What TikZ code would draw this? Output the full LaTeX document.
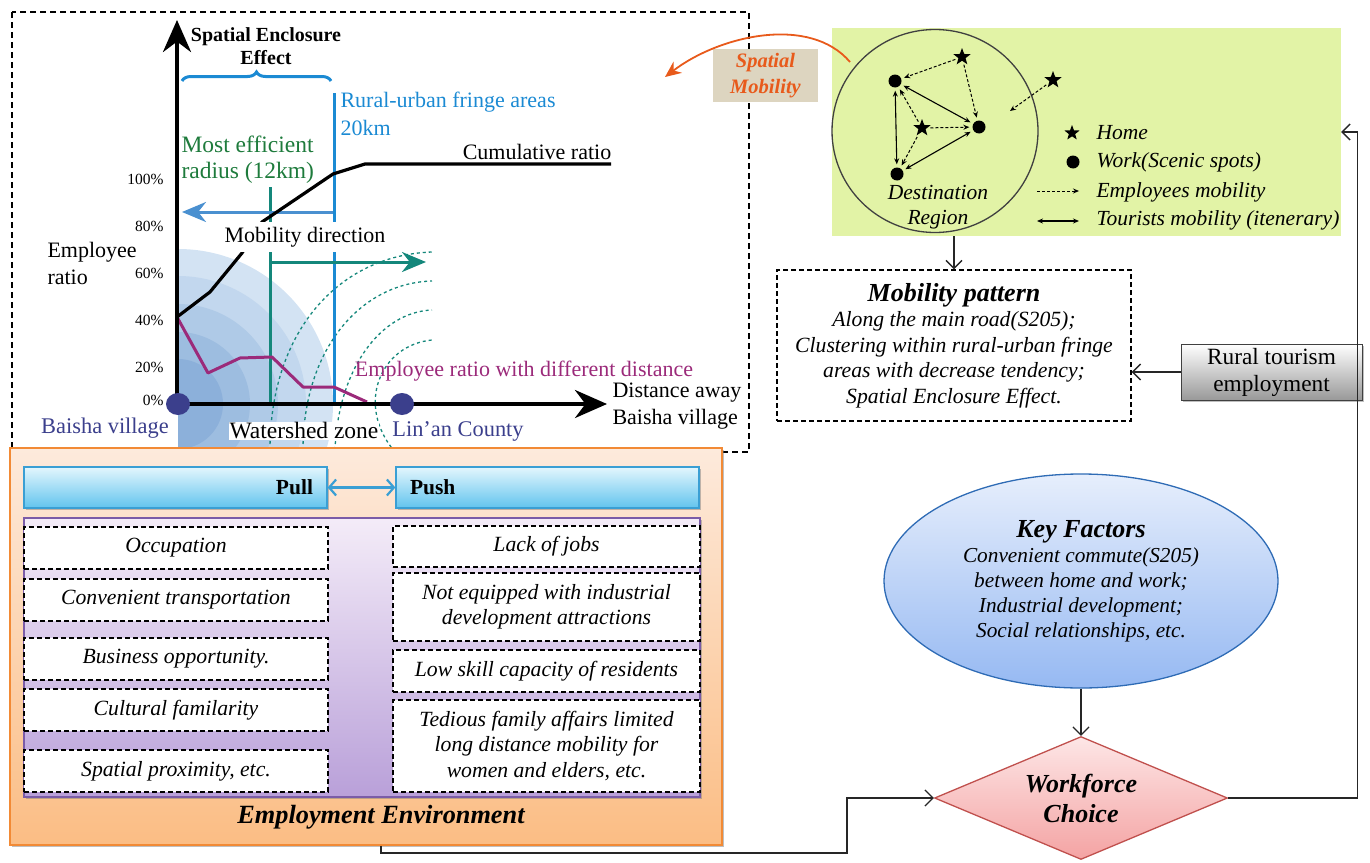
\documentclass[tikz,border=0pt]{standalone}
\usepackage{fontspec}
\setmainfont{Liberation Serif}
\usetikzlibrary{arrows.meta,positioning,calc,decorations.pathreplacing,shapes.geometric,shadows}
\definecolor{fringeblue}{HTML}{1B8AD3}
\definecolor{arrowblue}{HTML}{4A90D0}
\definecolor{radiusteal}{HTML}{14877B}
\definecolor{effgreen}{HTML}{1E7B3C}
\definecolor{ratiopurple}{HTML}{9B2A7A}
\definecolor{villagenavy}{HTML}{3B3F8C}
\definecolor{panelgreen}{HTML}{E2F3A6}
\definecolor{mobilityorange}{HTML}{E85A1B}
\definecolor{tanbox}{HTML}{DDD5C0}
\definecolor{envtop}{HTML}{FDEADC}
\definecolor{envbottom}{HTML}{FBBD84}
\definecolor{envedge}{HTML}{F28A35}
\definecolor{pptop}{HTML}{E3F6FD}
\definecolor{ppbottom}{HTML}{62C4EE}
\definecolor{ppedge}{HTML}{3A9FD4}
\definecolor{factop}{HTML}{F4ECF8}
\definecolor{facbottom}{HTML}{B9A0D9}
\definecolor{facedge}{HTML}{7B5CA8}
\definecolor{keytop}{HTML}{E6EEFC}
\definecolor{keybottom}{HTML}{96B9F2}
\definecolor{keyedge}{HTML}{2E6BB5}
\definecolor{choicetop}{HTML}{FDE6E6}
\definecolor{choicebottom}{HTML}{F4A3A3}
\definecolor{choiceedge}{HTML}{C0504D}
\definecolor{ringa}{HTML}{D3E3F3}
\definecolor{ringb}{HTML}{C2D7EE}
\definecolor{ringc}{HTML}{AFCAE7}
\definecolor{ringd}{HTML}{9DBDE0}
\definecolor{ringe}{HTML}{8CB0DA}
\newcommand{\chartfont}{\fontsize{22}{27}\selectfont}
\newcommand{\tickfont}{\fontsize{15.5}{18}\selectfont}
\newcommand{\notefont}{\fontsize{21.7}{25.5}\selectfont\itshape}
\newcommand{\headfont}{\fontsize{26.3}{30}\selectfont\bfseries\itshape}

\begin{document}
\begin{tikzpicture}[x=1pt, y=-1pt,
  conn/.style={-{Straight Barb[length=8pt,width=16pt]}, line width=1.3pt, draw=black!85},
  axis/.style={line width=4pt, -{Stealth[length=32pt,width=28pt]}},
  wave/.style={radiusteal, line width=1.3pt, dash pattern=on 3pt off 3pt},
  factbox/.style={draw, dash pattern=on 5pt off 3pt, line width=1.4pt, fill=white, inner sep=2pt, align=center, font=\notefont},
  ppbox/.style={draw=ppedge, line width=1.3pt, top color=pptop, bottom color=ppbottom, drop shadow, minimum width=303pt, minimum height=41pt, text width=275pt, font=\fontsize{21.5}{24}\selectfont\bfseries},
  home/.style={star, star points=5, star point ratio=2.4, fill=black, inner sep=0pt, minimum size=18pt},
  work/.style={circle, fill=black, inner sep=0pt, minimum size=13pt},
  emp/.style={densely dashed, line width=1pt, -{Stealth[length=6pt,width=5pt]}, shorten >=3pt, shorten <=3pt},
  tour/.style={line width=1.1pt, {Stealth[length=6pt,width=5pt]}-{Stealth[length=6pt,width=5pt]}, shorten >=3pt, shorten <=3pt},
  legend/.style={anchor=west, font=\fontsize{21.5}{24}\selectfont\itshape},
  village/.style={ellipse, fill=villagenavy, inner sep=0pt, minimum width=24pt, minimum height=22pt},
]
  \useasboundingbox (0,0) rectangle (1370,862);

  % Chart frame
  \draw[line width=1.5pt, dash pattern=on 6pt off 4pt] (12,12) rectangle (749,452);

  % Shaded rings round Baisha village
  \begin{scope}
    \clip (178,200) rectangle (440,450);
    \fill[ringa] (178,404) circle[radius=155];
    \fill[ringb] (178,404) circle[radius=128];
    \fill[ringc] (178,404) circle[radius=100];
    \fill[ringd] (178,404) circle[radius=72];
    \fill[ringe] (178,404) circle[radius=45];
  \end{scope}

  % Dashed waves
  \draw[wave] (270,450) .. controls (270,330) and (340,255) .. (432,252);
  \draw[wave] (303,450) .. controls (303,350) and (360,283) .. (432,281);
  \draw[wave] (335,450) .. controls (338,370) and (380,312) .. (432,310);
  \draw[wave] (395,452) .. controls (355,405) and (380,345) .. (432,340);

  % Radius lines and mobility arrows
  \draw[fringeblue, line width=3pt] (334,93) -- (334,404);
  \draw[radiusteal, line width=3pt] (270,187) -- (270,404);
  \draw[arrowblue, line width=3pt, -{Stealth[length=24pt,width=20pt]}] (333,212) -- (182,212);
  \draw[radiusteal, line width=3pt, -{Stealth[length=24pt,width=20pt]}] (270,262) -- (426,262);
  \draw[fringeblue, line width=3pt, decorate, decoration={brace, amplitude=9pt}] (182,81) -- (331,81);

  % Curves
  \draw[line width=3.2pt, line join=round] (177,317) -- (210,292) -- (242,253) -- (262,222) -- (333,174) -- (365,164) -- (611,164);
  \draw[ratiopurple, line width=3pt, line join=round] (177,317) -- (208,373) -- (240,358) -- (272,357) -- (303,387) -- (334,387) -- (367,402);

  % Axes
  \draw[axis] (177,404) -- (177,20);
  \draw[axis] (177,404) -- (607,404);
  \node[village] (baisha) at (178,404) {};
  \node[village] (linan) at (402,404) {};

  % Chart labels
  \foreach \val/\yy in {100/179, 80/226, 60/273, 40/320, 20/367, 0/400}
    \node[anchor=east, font=\tickfont] at (167,\yy) {\val\%};
  \node[anchor=west, align=left, font=\chartfont] (ratiolbl) at (44,263) {Employee\\ratio};
  \node[align=center, font=\fontsize{20}{23}\selectfont\bfseries] (enclosure) at (266,46) {Spatial Enclosure\\Effect};
  \node[anchor=west, align=left, text=fringeblue, font=\fontsize{22}{28}\selectfont] (fringe) at (337,114) {Rural-urban fringe areas\\20km};
  \node[anchor=west, align=left, text=effgreen, font=\fontsize{23.5}{26}\selectfont] (radius) at (178,160) {Most efficient\\radius (12km)};
  \node[font=\chartfont] (cumul) at (537,152) {Cumulative ratio};
  \node[font=\chartfont, fill=white, inner ysep=5pt] (direction) at (305,237) {Mobility direction};
  \node[font=\chartfont, text=ratiopurple] (ratiodist) at (524,371) {Employee ratio with different distance};
  \node[font=\fontsize{22.4}{27}\selectfont, text=villagenavy] (baishalbl) at (105,428) {Baisha village};
  \node[font=\fontsize{23.5}{27}\selectfont, fill=white, inner sep=1pt] (watershed) at (304,431) {Watershed zone};
  \node[font=\fontsize{22.4}{27}\selectfont, text=villagenavy] (linanlbl) at (458,431) {Lin’an County};
  \node[anchor=west, align=left, font=\chartfont] (distlbl) at (609,406) {Distance away\\Baisha village};

  % Employment environment
  \node[draw=envedge, line width=1.5pt, top color=envtop, bottom color=envbottom, drop shadow, minimum width=712pt, minimum height=397pt] (env) at (366,646.5) {};
  \node[ppbox, align=right] (pull) at (175.5,487.5) {Pull};
  \node[ppbox, align=left] (push) at (547.5,487.5) {Push};
  \draw[ppedge, line width=2.2pt, {Straight Barb[length=7pt,width=16pt]}-{Straight Barb[length=7pt,width=16pt]}] (pull.east) -- (push.west);
  \node[draw=facedge, line width=1.3pt, top color=factop, bottom color=facbottom, drop shadow, minimum width=676pt, minimum height=279pt] (factors) at (362,657.5) {};
  % Pull factors
  \node[factbox, minimum width=304pt, minimum height=42pt] (occup) at (176,548) {Occupation};
  \node[factbox, minimum width=304pt, minimum height=42pt] (transp) at (176,600) {Convenient transportation};
  \node[factbox, minimum width=304pt, minimum height=42pt] (business) at (176,659) {Business opportunity.};
  \node[factbox, minimum width=304pt, minimum height=42pt] (cultural) at (176,710) {Cultural familarity};
  \node[factbox, minimum width=304pt, minimum height=42pt] (proximity) at (176,771) {Spatial proximity, etc.};
  % Push factors
  \node[factbox, minimum width=307pt, minimum height=41pt] (jobs) at (546.5,546.5) {Lack of jobs};
  \node[factbox, minimum width=307pt, minimum height=68pt] (industry) at (546.5,607) {Not equipped with industrial\\development attractions};
  \node[factbox, minimum width=307pt, minimum height=42pt] (skill) at (546.5,671) {Low skill capacity of residents};
  \node[factbox, minimum width=307pt, minimum height=92pt] (family) at (546.5,746) {Tedious family affairs limited\\long distance mobility for\\women and elders, etc.};
  \node[font=\headfont] (envlabel) at (381,817) {Employment Environment};

  % Spatial mobility panel
  \node[fill=panelgreen, inner sep=0pt, minimum width=509pt, minimum height=208pt] (panel) at (1086.5,132) {};
  \node[ellipse, draw=black!75, line width=1.3pt, inner sep=0pt, minimum width=206pt, minimum height=203pt] (dest) at (935,131) {};
  \node[home] (h1) at (962,57) {};
  \node[home] (h2) at (922,128) {};
  \node[home] (h3) at (1053,80) {};
  \node[work] (w1) at (895,81) {};
  \node[work] (w2) at (979,127) {};
  \node[work] (w3) at (897,174) {};
  \coordinate (inflow) at (1010,111);
  \draw[emp] (h1) -- (w1);
  \draw[emp] (h1) -- (w2);
  \draw[emp] (h2) -- (w1);
  \draw[emp] (h2) -- (w2);
  \draw[emp] (h2) -- (w3);
  \draw[emp, shorten >=0pt] (h3) -- (inflow);
  \draw[tour] (w1) -- (w2);
  \draw[tour] (w1) -- (w3);
  \draw[tour] (w2) -- (w3);
  \node[align=center, font=\fontsize{21.5}{25}\selectfont\itshape] (destlbl) at (938,207) {Destination\\Region};
  % Legend
  \node[home, minimum size=16pt] (lhome) at (1072,133) {};
  \node[work, minimum size=13pt] (lwork) at (1073,162) {};
  \coordinate (le1) at (1037,191);
  \coordinate (le2) at (1079,191);
  \coordinate (lt1) at (1037,221);
  \coordinate (lt2) at (1079,221);
  \draw[emp, shorten <=0pt, shorten >=0pt] (le1) -- (le2);
  \draw[tour, shorten <=0pt, shorten >=0pt] (lt1) -- (lt2);
  \node[legend] at (1093,133) {Home};
  \node[legend] at (1093,162) {Work(Scenic spots)};
  \node[legend] at (1093,192) {Employees mobility};
  \node[legend] at (1093,220) {Tourists mobility (itenerary)};

  % Spatial mobility tag
  \node[fill=tanbox, text=mobilityorange, align=center, minimum width=105pt, minimum height=53pt, font=\fontsize{20.5}{26}\selectfont\bfseries\itshape] (spatial) at (765.5,75.5) {Spatial\\Mobility};
  \coordinate (smfrom) at (850,62);
  \coordinate (smto) at (665,77);
  \draw[mobilityorange, line width=1.8pt, -{Stealth[length=16pt,width=14pt]}] (smfrom) .. controls (810,15) and (720,35) .. (smto);

  % Right flow
  \node[draw, dash pattern=on 5pt off 3pt, line width=1.4pt, minimum width=354pt, minimum height=151pt, align=center, font=\fontsize{21.7}{25.5}\selectfont\itshape] (pattern) at (954,345.5)
    {{\fontsize{26}{28}\selectfont\bfseries Mobility pattern}\\Along the main road(S205);\\Clustering within rural-urban fringe\\areas with decrease tendency;\\Spatial Enclosure Effect.};
  \node[draw=black!75, line width=1pt, top color=white, bottom color=black!40, drop shadow, minimum width=181pt, minimum height=56pt, align=center, font=\fontsize{23.3}{27}\selectfont] (rural) at (1271.5,372) {Rural tourism\\employment};
  \node[ellipse, draw=keyedge, line width=1.3pt, top color=keytop, bottom color=keybottom, minimum width=394pt, minimum height=214pt, align=center, font=\fontsize{21.3}{25}\selectfont\itshape] (keyf) at (1081,581)
    {{\fontsize{26}{30}\selectfont\bfseries Key Factors}\\Convenient commute(S205)\\between home and work;\\Industrial development;\\Social relationships, etc.};
  \node[diamond, aspect=2.38, draw=choiceedge, line width=1.3pt, top color=choicetop, bottom color=choicebottom, minimum width=293pt, minimum height=123pt, inner sep=0pt, align=center, font=\fontsize{26}{30}\selectfont\bfseries\itshape] (choice) at (1081,798) {Workforce\\Choice};
  \coordinate (bend1) at (847,853);

  % Connectors
  \draw[conn] (pattern.north |- panel.south) -- (pattern.north);
  \draw[conn] (rural.west) -- (rural.west -| pattern.east);
  \draw[conn] (keyf.south) -- (choice.north);
  \draw[conn] (choice.east) -| ($(panel.east)+(16,0)$) -- (panel.east);
  \draw[conn] (envlabel |- env.south) |- (bend1) |- (choice.west);
\end{tikzpicture}
\end{document}
